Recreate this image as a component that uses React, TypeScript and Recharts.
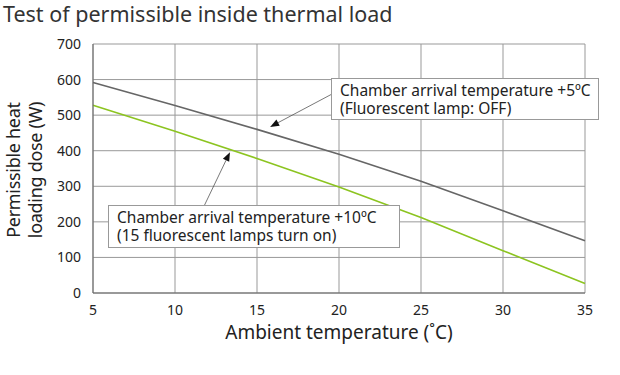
import { LineChart, Line, XAxis, YAxis, CartesianGrid, ReferenceLine } from 'recharts';

const temps = [5, 10, 15, 20, 25, 30, 35];
const offLamp = [592, 527, 460, 390, 314, 231, 147];
const onLamps = [528, 455, 378, 298, 212, 119, 27];
const yTicks = [0, 100, 200, 300, 400, 500, 600, 700];

const data = temps.map((t, i) => ({ t, off: offLamp[i], on: onLamps[i] }));

const FONT = '"Noto Sans", sans-serif';

function Arrow(props: any) {
  const { x1, y1, x2, y2 } = props;
  const ang = Math.atan2(y2 - y1, x2 - x1);
  const len = 9;
  const w = 3.5;
  const bx = x2 - len * Math.cos(ang);
  const by = y2 - len * Math.sin(ang);
  const px = -Math.sin(ang) * w;
  const py = Math.cos(ang) * w;
  return (
    <g>
      <line x1={x1} y1={y1} x2={bx} y2={by} stroke="#555" strokeWidth={0.8} />
      <polygon points={`${x2},${y2} ${bx + px},${by + py} ${bx - px},${by - py}`} fill="#111" />
    </g>
  );
}

const boxStyle: React.CSSProperties = {
  position: 'absolute',
  background: '#fff',
  border: '1px solid #999',
  fontFamily: FONT,
  fontSize: 15.5,
  lineHeight: '18px',
  color: '#222',
  padding: '2px 8px',
  boxSizing: 'border-box',
  whiteSpace: 'nowrap',
};

export default function App() {
  return (
    <div style={{ position: 'relative', width: 620, height: 375, background: '#fff', fontFamily: FONT }}>
      <style>{'body{margin:0}'}</style>
      <div style={{ position: 'absolute', left: 3, top: 0, fontSize: 21.5, lineHeight: '28px', color: '#333', whiteSpace: 'nowrap' }}>
        Test of permissible inside thermal load
      </div>
      <LineChart width={620} height={375} data={data} margin={{ top: 44, right: 35, left: 43, bottom: 32 }}>
        <CartesianGrid stroke="#999" strokeWidth={1} />
        <XAxis
          dataKey="t"
          type="number"
          domain={[5, 35]}
          ticks={temps}
          height={50}
          axisLine={{ stroke: '#666' }}
          tickLine={false}
          tick={{ fill: '#222', fontSize: 14, fontFamily: FONT }}
          tickMargin={6}
          label={{ value: 'Ambient temperature (˚C)', position: 'insideBottom', offset: 4, fill: '#222', fontSize: 19, fontFamily: FONT }}
        />
        <YAxis
          type="number"
          domain={[0, 700]}
          ticks={yTicks}
          width={50}
          axisLine={{ stroke: '#666' }}
          tickLine={false}
          tick={{ fill: '#222', fontSize: 14, fontFamily: FONT }}
          tickMargin={6}
        />
        <Line dataKey="off" stroke="#666" strokeWidth={1.6} dot={false} isAnimationActive={false} />
        <Line dataKey="on" stroke="#8cc420" strokeWidth={1.6} dot={false} isAnimationActive={false} />
        <ReferenceLine segment={[{ x: 19.6, y: 560 }, { x: 15.8, y: 467 }]} ifOverflow="visible" shape={Arrow} />
        <ReferenceLine segment={[{ x: 11.8, y: 247 }, { x: 13.35, y: 396 }]} ifOverflow="visible" shape={Arrow} />
      </LineChart>
      <div style={{ ...boxStyle, left: 331, top: 78, width: 268, height: 42 }}>
        Chamber arrival temperature +5ºC
        <br />
        (Fluorescent lamp: OFF)
      </div>
      <div style={{ ...boxStyle, left: 108, top: 205, width: 292, height: 43 }}>
        Chamber arrival temperature +10ºC
        <br />
        (15 fluorescent lamps turn on)
      </div>
      <div
        style={{
          position: 'absolute',
          left: 24,
          top: 170,
          transform: 'translate(-50%, -50%) rotate(-90deg)',
          fontSize: 18,
          letterSpacing: -0.3,
          lineHeight: '22px',
          color: '#222',
          textAlign: 'center',
          whiteSpace: 'nowrap',
        }}
      >
        Permissible heat
        <br />
        loading dose (W)
      </div>
    </div>
  );
}
